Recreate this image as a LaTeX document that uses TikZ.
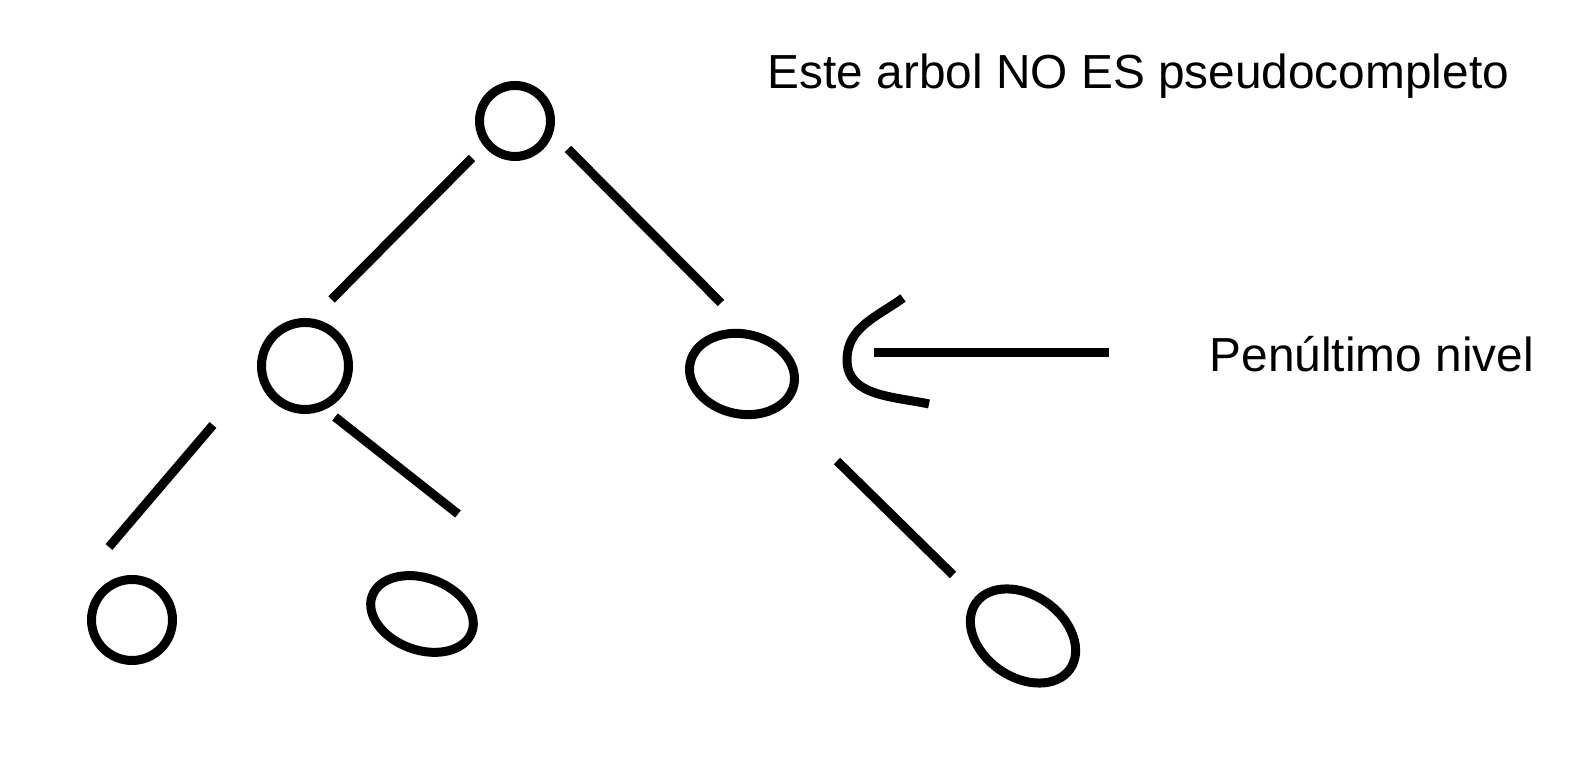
\documentclass[tikz,border=0pt]{standalone}
\usepackage{fontspec}
\setmainfont{Liberation Sans}
\usetikzlibrary{positioning,shapes.geometric}

\begin{document}
\begin{tikzpicture}[node distance=2.5cm,on grid,
    nodo/.style={draw,circle,line width=2.56pt,inner sep=0pt},
    ovalo/.style={draw,ellipse,line width=2.56pt,inner sep=0pt},
    rama/.style={line width=2.56pt},
    texto/.style={inner sep=0pt,anchor=base west,font=\fontsize{13.6pt}{16pt}\selectfont}]
  \useasboundingbox (0,0) rectangle (15.76,7.72);
  \node[nodo,minimum size=0.71cm]  (raiz) at (5.15,6.51)                  {};
  \node[nodo,minimum size=0.87cm]  (izq)  [below left =2.45cm and 2.10cm of raiz] {};
  \node[ovalo,minimum width=1.06cm,minimum height=0.80cm,rotate=-12]
                                   (der)  [below right=2.53cm and 2.27cm of raiz] {};
  \node[nodo,minimum size=0.81cm]  (hoja1) [below left =2.54cm and 1.73cm of izq] {};
  \node[ovalo,minimum width=1.06cm,minimum height=0.72cm,rotate=-20]
                                   (hoja2) [below right=2.48cm and 1.17cm of izq] {};
  \node[ovalo,minimum width=1.15cm,minimum height=0.82cm,rotate=-35]
                                   (hoja3) [below right=2.62cm and 2.81cm of der] {};
  % ramas, sin tocar los nodos
  \draw[rama] ([shift={(-0.43,-0.37)}]raiz.center) -- ([shift={(0.265,0.665)}]izq.center);
  \draw[rama] ([shift={(0.53,-0.28)}]raiz.center)  -- ([shift={(-0.21,0.71)}]der.center);
  \draw[rama] ([shift={(-0.92,-0.59)}]izq.center)  -- ([shift={(-0.23,0.73)}]hoja1.center);
  \draw[rama] ([shift={(0.30,-0.51)}]izq.center)   -- ([shift={(0.36,1.00)}]hoja2.center);
  \draw[rama] ([shift={(0.95,-0.87)}]der.center)   -- ([shift={(-0.70,0.61)}]hoja3.center);
  % textos
  \node[texto] (titulo) at (7.67,6.835) {Este arbol NO ES pseudocompleto};
  \node[texto] (nivel)  at (12.09,4.00) {Penúltimo nivel};
  % flecha
  \coordinate (punta) at (8.74,4.19);
  \draw[rama,shorten >=1.0cm] (punta) -- (punta -| nivel.west);
  \draw[rama] ([shift={(0.29,0.55)}]punta) to[out=216,in=90] ([shift={(-0.27,-0.07)}]punta)
              to[out=270,in=168] ([shift={(0.55,-0.51)}]punta);
\end{tikzpicture}
\end{document}
